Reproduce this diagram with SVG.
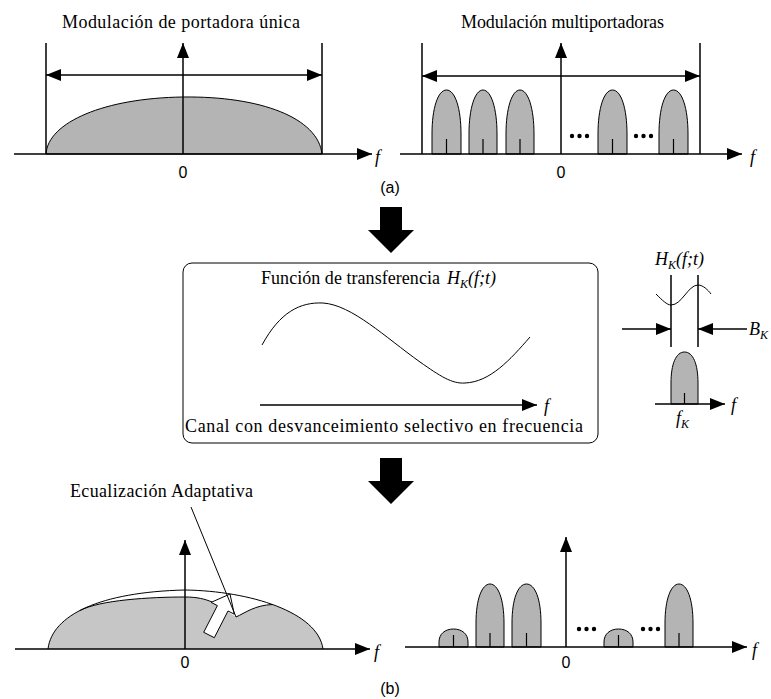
<svg xmlns="http://www.w3.org/2000/svg" width="771" height="699" viewBox="0 0 771 699">
<style>
.t{font-family:"Liberation Serif","Times New Roman",serif;font-size:18px;fill:#000}
.i{font-family:"Liberation Serif","Times New Roman",serif;font-style:italic;font-size:18px;fill:#000}
.s{font-family:"Liberation Sans",Arial,sans-serif;font-size:16px;fill:#000}
.ln{stroke:#000;stroke-width:1.5;fill:none}
.ax{stroke:#000;stroke-width:1.5;fill:none;marker-end:url(#ah)}
.dbl{stroke:#000;stroke-width:1.5;fill:none;marker-end:url(#ah);marker-start:url(#ah)}
.g{fill:#b4b4b4;stroke:#000;stroke-width:1}
.tk{stroke:#000;stroke-width:1.2}
.thin{stroke:#000;stroke-width:1;fill:none}
</style>
<defs>
<marker id="ah" markerWidth="15" markerHeight="12" refX="15" refY="6" orient="auto-start-reverse" markerUnits="userSpaceOnUse"><path d="M0,0 L15,6 L0,12 Z" fill="#000"/></marker>
</defs>
<rect width="771" height="699" fill="#fff"/>

<g id="single-carrier">
<text class="t" x="62" y="28" textLength="238">Modulación de portadora única</text>
<path class="g" d="M46,154 C48,122 105,98 183,97 C261,96 318,118 322,154 Z"/>
<line class="ln" x1="46" y1="43" x2="46" y2="154"/>
<line class="ln" x1="322" y1="43" x2="322" y2="154"/>
<line class="dbl" x1="46" y1="75" x2="322" y2="75"/>
<line class="ax" x1="14" y1="154" x2="372" y2="154"/>
<line class="ax" x1="183" y1="154" x2="183" y2="43"/>
<text class="s" x="183" y="178" text-anchor="middle">0</text>
<text class="i" x="375" y="163">f</text>
</g>

<g id="multi-carrier">
<text class="t" x="461" y="28" textLength="203">Modulación multiportadoras</text>
<path class="g" d="M432,154 V134 C432,108 438,90 446.5,90 C455,90 461,108 461,134 V154 Z"/>
<path class="g" d="M469,154 V134 C469,108 475,90 483,90 C491,90 497,108 497,134 V154 Z"/>
<path class="g" d="M506,154 V134 C506,108 512,90 520,90 C528,90 534,108 534,134 V154 Z"/>
<path class="g" d="M598,154 V134 C598,108 604,90 612.5,90 C621,90 627,108 627,134 V154 Z"/>
<path class="g" d="M659,154 V134 C659,108 665,90 673.5,90 C682,90 688,108 688,134 V154 Z"/>
<line class="tk" x1="446.5" y1="154" x2="446.5" y2="139"/>
<line class="tk" x1="483" y1="154" x2="483" y2="139"/>
<line class="tk" x1="520" y1="154" x2="520" y2="139"/>
<line class="tk" x1="612.5" y1="154" x2="612.5" y2="139"/>
<line class="tk" x1="673.5" y1="154" x2="673.5" y2="139"/>
<circle cx="572" cy="136" r="2.2"/><circle cx="579.5" cy="136" r="2.2"/><circle cx="587" cy="136" r="2.2"/>
<circle cx="636" cy="136" r="2.2"/><circle cx="643.5" cy="136" r="2.2"/><circle cx="651" cy="136" r="2.2"/>
<line class="ln" x1="422" y1="43" x2="422" y2="154"/>
<line class="ln" x1="700" y1="43" x2="700" y2="154"/>
<line class="dbl" x1="422" y1="76" x2="700" y2="76"/>
<line class="ax" x1="400" y1="154" x2="742" y2="154"/>
<line class="ax" x1="561" y1="154" x2="561" y2="43"/>
<text class="s" x="561" y="178" text-anchor="middle">0</text>
<text class="i" x="750" y="163">f</text>
<text class="s" x="390" y="193" text-anchor="middle">(a)</text>
</g>

<g id="channel">
<rect x="183" y="263" width="415" height="180" rx="9" class="thin" stroke-width="1.2"/>
<text class="t" x="261" y="284" textLength="179">Función de transferencia</text>
<text class="i" x="447" y="284" font-size="17">H<tspan font-size="12" dy="4">K</tspan><tspan dy="-4">(f;t)</tspan></text>
<path class="thin" d="M262,345 C280,312 300,302 323,303 C352,305 385,337 420,362 C440,376 452,384 465,383 C490,382 510,360 530,337"/>
<line class="ax" x1="260" y1="405" x2="537" y2="405"/>
<text class="i" x="544" y="412">f</text>
<text class="t" x="185" y="432" textLength="398">Canal con desvanceimiento selectivo en frecuencia</text>
</g>

<g id="subcarrier">
<text class="i" x="655" y="265" font-size="17">H<tspan font-size="12" dy="4">K</tspan><tspan dy="-4">(f;t)</tspan></text>
<path class="thin" d="M656,294 C662,300 667,305 671,305 C682,305 688,285 698,285 C703,285 708,290 711,294"/>
<line class="ln" x1="671" y1="275" x2="671" y2="347"/>
<line class="ln" x1="698" y1="275" x2="698" y2="347"/>
<line class="ax" x1="622" y1="329" x2="671" y2="329"/>
<line class="ax" x1="747" y1="329" x2="698" y2="329"/>
<text class="i" x="749" y="335" font-size="17">B<tspan font-size="12" dy="4">K</tspan></text>
<path class="g" d="M671,404 V383 C671,364 676,352 684.5,352 C693,352 698,364 698,383 V404 Z"/>
<line class="tk" x1="684.5" y1="404" x2="684.5" y2="393"/>
<line class="ax" x1="655" y1="404" x2="725" y2="404"/>
<text class="i" x="731" y="411">f</text>
<text class="i" x="676" y="424" font-size="17">f<tspan font-size="12" dy="4">K</tspan></text>
</g>

<g id="connectors">
<polygon points="380,207 402,207 402,230 414,230 391,253 368,230 380,230" fill="#000"/>
<polygon points="380,458 402,458 402,481 414,481 391,504 368,481 380,481" fill="#000"/>
</g>

<g id="equalized-single">
<text class="t" x="70" y="497" textLength="183">Ecualización Adaptativa</text>
<path d="M48,649 C52,615 100,592 185,590 C250,591 318,612 323,649 Z" fill="#c6c6c6"/>
<path d="M80,610.5 L80,584 L273,584 L273,604.5 C255,605 245,613 236,617 L212,602 C205,599 197,597 185,597 C150,597 100,600 80,610.5 Z" fill="#fff"/>
<path class="thin" d="M80,610.5 C100,600 150,597 185,597 C197,597 205,599 212,602"/>
<path class="thin" d="M236,617 C245,613 255,605 273,604.5"/>
<path class="thin" d="M48,649 C52,615 100,592 185,590 C250,591 318,612 323,649"/>
<polygon points="230,594 234.3,614.2 228,611 214.3,637.7 203.7,632.3 217.4,605.6 211.1,602.4" fill="#fff" stroke="#000" stroke-width="1"/>
<line class="thin" x1="191" y1="507" x2="236" y2="617"/>
<line class="ax" x1="15" y1="649" x2="370" y2="649"/>
<line class="ax" x1="185" y1="649" x2="185" y2="540"/>
<text class="s" x="185" y="668" text-anchor="middle">0</text>
<text class="i" x="374" y="658">f</text>
<text class="s" x="390" y="694" text-anchor="middle">(b)</text>
</g>

<g id="equalized-multi">
<path class="g" d="M439,647 V642 C439,634 445,629 453.5,629 C462,629 468,634 468,642 V647 Z"/>
<path class="g" d="M476,647 V623 C476,599 482,584 490,584 C498,584 504,599 504,623 V647 Z"/>
<path class="g" d="M512,647 V623 C512,599 518,584 526.5,584 C535,584 541,599 541,623 V647 Z"/>
<path class="g" d="M604,647 V642 C604,634 610,629 618.5,629 C627,629 633,634 633,642 V647 Z"/>
<path class="g" d="M665,647 V623 C665,599 671,584 679,584 C687,584 693,599 693,623 V647 Z"/>
<line class="tk" x1="453.5" y1="647" x2="453.5" y2="635"/>
<line class="tk" x1="490" y1="647" x2="490" y2="633"/>
<line class="tk" x1="526.5" y1="647" x2="526.5" y2="633"/>
<line class="tk" x1="618.5" y1="647" x2="618.5" y2="635"/>
<line class="tk" x1="679" y1="647" x2="679" y2="633"/>
<circle cx="579" cy="629" r="2.2"/><circle cx="586.5" cy="629" r="2.2"/><circle cx="594" cy="629" r="2.2"/>
<circle cx="643" cy="629" r="2.2"/><circle cx="650.5" cy="629" r="2.2"/><circle cx="658" cy="629" r="2.2"/>
<line class="ax" x1="405" y1="647" x2="747" y2="647"/>
<line class="ax" x1="566" y1="647" x2="566" y2="537"/>
<text class="s" x="566" y="668" text-anchor="middle">0</text>
<text class="i" x="752" y="656">f</text>
</g>
</svg>
